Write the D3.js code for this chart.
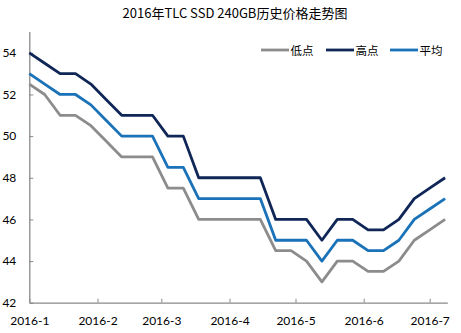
<!DOCTYPE html>
<html><head><meta charset="utf-8">
<script src="https://cdn.jsdelivr.net/npm/d3@7"></script>
<style>body{margin:0;background:#fff}</style>
</head><body>
<svg id="c" width="461" height="333"></svg>
<script>
const title = "2016年TLC SSD 240GB历史价格走势图";
const weeks = ["2016-01-01","2016-01-08","2016-01-15","2016-01-22","2016-01-29","2016-02-05","2016-02-12","2016-02-19","2016-02-26","2016-03-04","2016-03-11","2016-03-18","2016-03-25","2016-04-01","2016-04-08","2016-04-15","2016-04-22","2016-04-29","2016-05-06","2016-05-13","2016-05-20","2016-05-27","2016-06-03","2016-06-10","2016-06-17","2016-06-24","2016-07-01","2016-07-08"];
const lowVals  = [52.5,52,51,51,50.5,49.75,49,49,49,47.5,47.5,46,46,46,46,46,44.5,44.5,44,43,44,44,43.5,43.5,44,45,45.5,46];
const highVals = [54,53.5,53,53,52.5,51.75,51,51,51,50,50,48,48,48,48,48,46,46,46,45,46,46,45.5,45.5,46,47,47.5,48];
const avgVals  = [53,52.5,52,52,51.5,50.75,50,50,50,48.5,48.5,47,47,47,47,47,45,45,45,44,45,45,44.5,44.5,45,46,46.5,47];
const seriesNames = ["低点","高点","平均"];
const seriesColors = ["#8c8c8c","#0f2657","#1a72b8"];
const yTicks = [42,44,46,48,50,52,54];
const xTicks = ["2016-01-01","2016-02-01","2016-03-01","2016-04-01","2016-05-01","2016-06-01","2016-07-01"];
const xTickLabels = ["2016-1","2016-2","2016-3","2016-4","2016-5","2016-6","2016-7"];

const svg = d3.select("#c");
const parse = d3.utcParse("%Y-%m-%d");
const x = d3.scaleUtc().domain([parse("2016-01-01"), parse("2016-07-09")]).range([29.3, 447.3]);
const y = d3.scaleLinear().domain([42,55]).range([302.7, 32]);
const font = "Lato, 'Noto Sans', sans-serif";

svg.append("text").attr("x",235).attr("y",17.5).attr("text-anchor","middle")
  .style("font-family","'Noto Sans CJK SC', sans-serif").style("font-size","13px").attr("fill","#000").text(title);

// axes
const gx = svg.append("g").attr("transform",`translate(0,${y(42)})`)
  .call(d3.axisBottom(x).tickValues(xTicks.map(parse)).tickFormat((d,i)=>xTickLabels[i]).tickSizeInner(-4).tickSizeOuter(0).tickPadding(14));
const gy = svg.append("g").attr("transform",`translate(${x.range()[0]},0)`)
  .call(d3.axisLeft(y).tickValues(yTicks).tickSizeInner(-4).tickSizeOuter(0).tickPadding(13));
[gx,gy].forEach(g=>{
  g.select(".domain").attr("stroke","#898989").attr("stroke-width",1.3);
  g.selectAll(".tick line").attr("stroke","#898989").attr("stroke-width",1);
  g.selectAll("text").style("font-family",font).style("font-size","12px").attr("fill","#000");
});
gy.select(".domain").attr("d",`M0.5,${y(55)}V${y(42)}`);

const data = [lowVals, highVals, avgVals];
const line = d3.line().x((d,i)=>x(parse(weeks[i]))).y(d=>y(d));
data.forEach((vals,k)=>{
  svg.append("path").datum(vals).attr("d",line).attr("fill","none")
    .attr("stroke",seriesColors[k]).attr("stroke-width",2.8).attr("stroke-linejoin","round");
});

// legend
const legX = [261,326,390];
seriesNames.forEach((n,k)=>{
  svg.append("line").attr("x1",legX[k]).attr("x2",legX[k]+28).attr("y1",50).attr("y2",50)
    .attr("stroke",seriesColors[k]).attr("stroke-width",2.8);
  svg.append("text").attr("x",legX[k]+29.5).attr("y",54.5)
    .style("font-family","'Noto Sans CJK SC', sans-serif").style("font-size","11.5px").attr("fill","#000").text(n);
});
</script>
</body></html>
